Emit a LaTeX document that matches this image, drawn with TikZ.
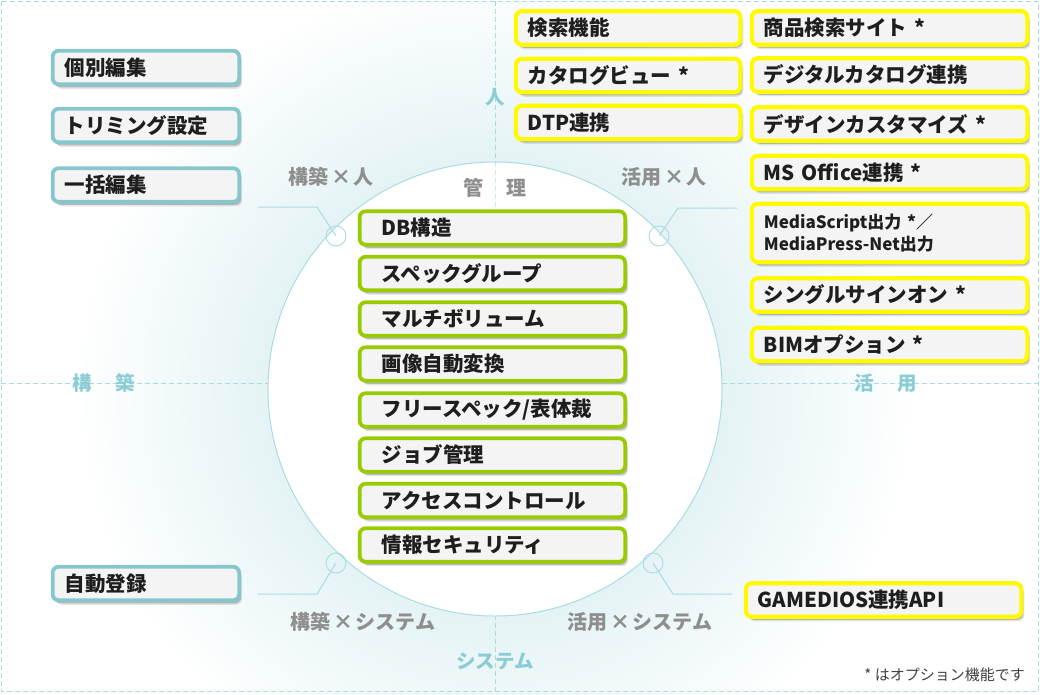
\documentclass[tikz,border=0pt]{standalone}
\usepackage{fontspec}
\setmainfont{Noto Sans CJK JP}
\usetikzlibrary{shadows}
\definecolor{glowc}{HTML}{E4F3F5}
\definecolor{linec}{HTML}{A9DCE2}
\definecolor{axisc}{HTML}{8CCCD4}
\definecolor{grayc}{HTML}{8E8E8E}
\definecolor{boxfill}{HTML}{F4F4F4}
\definecolor{txt}{HTML}{1E1E1E}
\definecolor{tealc}{HTML}{86C6CD}
\definecolor{yelc}{HTML}{FFFA00}
\definecolor{grnc}{HTML}{99CC00}
\pgfdeclareradialshading{glow}{\pgfpoint{0bp}{0bp}}{color(0bp)=(white); color(13.3bp)=(white); color(13.5bp)=(glowc); color(25bp)=(white); color(50bp)=(white)}
\newcommand{\xx}{\kern2.5pt×\kern2.5pt}
\begin{document}
\begin{tikzpicture}[x=1pt,y=-1pt,
  axisline/.style={draw=linec, line width=1pt, dash pattern=on 5pt off 3pt},
  conn/.style={draw=linec, line width=1pt},
  dotc/.style={circle, draw=linec, line width=0.9pt, minimum size=20pt, inner sep=0pt},
  axlab/.style={text=axisc, font=\bfseries\fontsize{19.5}{22}\selectfont, inner sep=0pt},
  glab/.style={text=grayc, font=\bfseries\fontsize{20}{22}\selectfont, inner sep=0pt},
  box/.style={draw, rounded corners=6pt, line width=3.8pt, fill=boxfill, text=txt,
    font=\bfseries\fontsize{20.5}{23}\selectfont, align=left, anchor=west,
    inner xsep=12pt, inner ysep=0pt, minimum height=33.5pt,
    drop shadow={shadow xshift=3pt, shadow yshift=-4.5pt, opacity=.1, fill=black},
    drop shadow={shadow xshift=2pt, shadow yshift=-3pt, opacity=.2, fill=black}},
  lbox/.style={box, draw=tealc, text width=162.5pt},
  ybox/.style={box, draw=yelc, line width=4.2pt, text width=200.5pt},
  zbox/.style={box, draw=yelc, line width=4.2pt, text width=251.5pt},
  gbox/.style={box, draw=grnc, inner xsep=22pt, text width=221.5pt}
]
\useasboundingbox (0,0) rectangle (1040,694);
\begin{scope}
  \clip (0,0) rectangle (1040,694);
  \shade[shading=glow] (495,389) circle[radius=420];
\end{scope}
% axes and border
\draw[axisline] (1,1) rectangle (1038,691);
\draw[axisline] (495,1) -- (495,163);
\draw[axisline] (495,615) -- (495,691);
\draw[axisline] (1,383) -- (268,383);
\draw[axisline] (722,383) -- (1038,383);
% core circle
\node[circle, draw=linec, line width=1pt, fill=white, minimum size=454pt, inner sep=0pt] (core) at (495,389) {};
\draw[axisline, opacity=.6] (core.north) -- (495,209);
% axis labels
\node[axlab] (lhito) at (495,97) {人};
\node[axlab] (lkoch) at (104,383) {構\hspace{1.2em}築};
\node[axlab] (lkatu) at (886,383) {活\hspace{1.2em}用};
\node[axlab] (lsys) at (495,661) {システム};
\node[glab] (lkanri) at (495,188) {管\hspace{1.2em}理};
% corner labels
\node[glab] (cA) at (331,177) {構築\xx 人};
\node[glab] (cB) at (664,177) {活用\xx 人};
\node[glab] (cC) at (363,622) {構築\xx システム};
\node[glab] (cD) at (640,622) {活用\xx システム};
% connector markers
\node[dotc] (pA) at (336,236) {};
\node[dotc] (pB) at (659,236) {};
\node[dotc] (pC) at (336,563) {};
\node[dotc] (pD) at (653,563) {};
\coordinate (pA1) at (317,207); \coordinate (pA2) at (258,207);
\coordinate (pB1) at (678,208); \coordinate (pB2) at (737,208);
\coordinate (pC1) at (317,594); \coordinate (pC2) at (258,594);
\coordinate (pD1) at (673,594); \coordinate (pD2) at (732,594);
\draw[conn] (pA.center) -- (pA1) -- (pA2);
\draw[conn] (pB.center) -- (pB1) -- (pB2);
\draw[conn] (pC.center) -- (pC1) -- (pC2);
\draw[conn] (pD.center) -- (pD1) -- (pD2);
% left boxes
\node[lbox] (k1) at (50.75,67.5) {個別編集};
\node[lbox] (k2) at (50.75,125.5) {トリミング設定};
\node[lbox] (k3) at (50.75,185) {一括編集};
\node[lbox] (k4) at (50.75,583.5) {自動登録};
% top yellow column 1
\node[ybox] (y1) at (513.75,28) {検索機能};
\node[ybox] (y2) at (513.75,75.5) {カタログビュー *};
\node[ybox] (y3) at (513.75,122.5) {DTP連携};
% yellow column 2
\node[zbox] (z1) at (749.75,28) {商品検索サイト *};
\node[zbox] (z2) at (749.75,75) {デジタルカタログ連携};
\node[zbox] (z3) at (749.75,124) {デザインカスタマイズ *};
\node[zbox] (z4) at (749.75,172.5) {MS Office連携 *};
\node[zbox, minimum height=58.5pt, font=\bfseries\fontsize{17}{22}\selectfont] (z5) at (749.75,233) {MediaScript出力 *／\\MediaPress-Net出力};
\node[zbox] (z6) at (749.75,295) {シングルサインオン *};
\node[zbox] (z7) at (749.75,344.5) {BIMオプション *};
\node[zbox] (z8) at (743.75,600) {GAMEDIOS連携API};
% green core boxes
\node[gbox] (g1) at (357.75,228) {DB構造};
\node[gbox] (g2) at (357.75,273.5) {スペックグループ};
\node[gbox] (g3) at (357.75,319) {マルチボリューム};
\node[gbox] (g4) at (357.75,364) {画像自動変換};
\node[gbox] (g5) at (357.75,410) {フリースペック/表体裁};
\node[gbox] (g6) at (357.75,455) {ジョブ管理};
\node[gbox] (g7) at (357.75,500.5) {アクセスコントロール};
\node[gbox] (g8) at (357.75,545) {情報セキュリティ};
% footnote
\node[anchor=east, text=txt!85, font=\fontsize{15}{18}\selectfont, inner sep=0pt] (note) at (1025,675) {* はオプション機能です};
\end{tikzpicture}
\end{document}
